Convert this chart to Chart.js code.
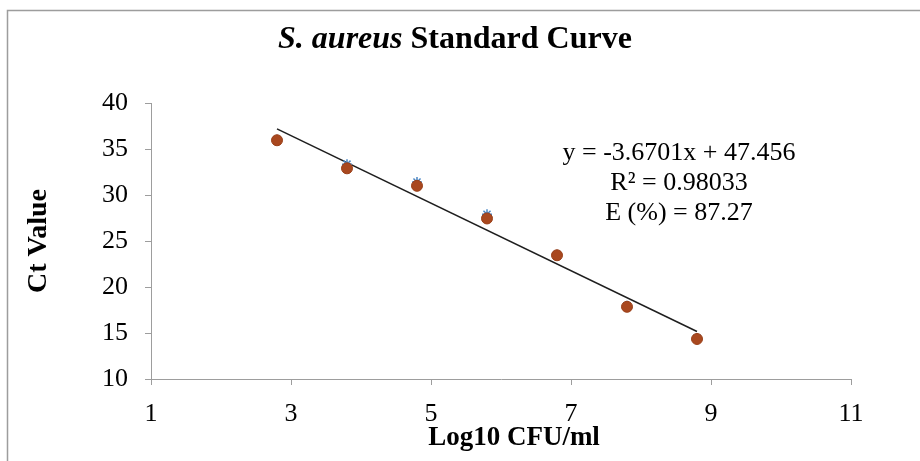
<!DOCTYPE html>
<html>
<head>
<meta charset="utf-8">
<script src="https://cdn.jsdelivr.net/npm/chart.js@4/dist/chart.umd.min.js"></script>
<style>
  html, body { margin: 0; padding: 0; background: #fff; }
  #wrap { width: 920px; height: 461px; }
</style>
</head>
<body>
<div id="wrap"><canvas id="stdChart" width="920" height="461"></canvas></div>
<script>
// values
const logCfu = [2.8, 3.8, 4.8, 5.8, 6.8, 7.8, 8.8];
const ctMean = [35.95, 32.9, 31.0, 27.45, 23.45, 17.85, 14.35];
const ctRep = [36.0, 33.35, 31.4, 27.9, 23.5, 17.95, 14.45];
const trendX = [2.8, 8.8];
const trendY = [37.18, 15.16];
const xTicks = [1, 3, 5, 7, 9, 11];
const yTicks = [10, 15, 20, 25, 30, 35, 40];
const fitText = ["y = -3.6701x + 47.456", "R\u00b2 = 0.98033", "E (%) = 87.27"];
const xTitle = "Log10 CFU/ml";

const serif = "'Liberation Serif', 'Times New Roman', serif";

function pts(xs, ys) {
  return xs.map(function (x, i) { return { x: x, y: ys[i] }; });
}

// outer frame, title with italic species name, x title and the fit equation
const decor = {
  id: "decor",
  beforeDraw: function (chart) {
    const c = chart.ctx;
    c.save();
    c.fillStyle = "#fff";
    c.fillRect(0, 0, chart.width, chart.height);
    c.strokeStyle = "#9d9d9d";
    c.lineWidth = 1.5;
    c.beginPath();
    c.moveTo(7.5, chart.height);
    c.lineTo(7.5, 10.5);
    c.lineTo(chart.width, 10.5);
    c.stroke();
    c.restore();
  },
  afterDraw: function (chart) {
    const c = chart.ctx;
    c.save();
    c.fillStyle = "#000";
    c.textBaseline = "alphabetic";
    const a = "S. aureus";
    const b = " Standard Curve";
    c.font = "italic bold 32px " + serif;
    const wa = c.measureText(a).width;
    c.font = "bold 32px " + serif;
    const wb = c.measureText(b).width;
    const x0 = 455 - (wa + wb) / 2;
    c.textAlign = "left";
    c.font = "italic bold 32px " + serif;
    c.fillText(a, x0, 48);
    c.font = "bold 32px " + serif;
    c.fillText(b, x0 + wa, 48);

    const area = chart.chartArea;
    c.textAlign = "center";
    c.font = "bold 27px " + serif;
    c.fillText(xTitle, 514, 445);

    c.font = "26px " + serif;
    fitText.forEach(function (t, i) {
      c.fillText(t, area.left + 528, area.top + 57 + i * 30);
    });
    c.restore();
  }
};

new Chart(document.getElementById("stdChart").getContext("2d"), {
  type: "scatter",
  data: {
    datasets: [
      {
        type: "line",
        label: "Linear fit",
        data: pts(trendX, trendY),
        borderColor: "#1e1e1e",
        borderWidth: 1.5,
        pointRadius: 0,
        fill: false,
        order: 3
      },
      {
        label: "Replicate",
        data: pts(logCfu, ctRep),
        pointStyle: "star",
        pointRadius: 5,
        borderColor: "#4a86c5",
        backgroundColor: "#4a86c5",
        borderWidth: 1.5,
        order: 2
      },
      {
        label: "Mean Ct",
        data: pts(logCfu, ctMean),
        pointStyle: "circle",
        pointRadius: 5.5,
        backgroundColor: "#a9481f",
        borderColor: "#9a4019",
        borderWidth: 1,
        order: 1
      }
    ]
  },
  options: {
    responsive: false,
    animation: false,
    layout: { padding: { top: 103, right: 69, left: 0, bottom: 0 } },
    plugins: {
      legend: { display: false },
      tooltip: { enabled: false },
      title: { display: false }
    },
    scales: {
      x: {
        type: "linear",
        min: 1,
        max: 11,
        afterBuildTicks: function (s) { s.ticks = xTicks.map(function (v) { return { value: v }; }); },
        afterFit: function (s) { s.height = 82; },
        grid: { drawOnChartArea: false, tickLength: 6, color: "#9d9d9d", lineWidth: 1 },
        border: { color: "#9d9d9d", width: 1 },
        ticks: { color: "#000", padding: 14, font: { family: serif, size: 26 } }
      },
      y: {
        min: 10,
        max: 40,
        afterBuildTicks: function (s) { s.ticks = yTicks.map(function (v) { return { value: v }; }); },
        afterFit: function (s) { s.width = 151; },
        grid: { drawOnChartArea: false, tickLength: 6, color: "#9d9d9d", lineWidth: 1 },
        border: { color: "#9d9d9d", width: 1 },
        ticks: { color: "#000", padding: 17, font: { family: serif, size: 26 } },
        title: {
          display: true,
          text: "Ct Value",
          color: "#000",
          font: { family: serif, size: 28, weight: "bold" },
          padding: { top: 22, bottom: 0 }
        }
      }
    }
  },
  plugins: [decor]
});
</script>
</body>
</html>
